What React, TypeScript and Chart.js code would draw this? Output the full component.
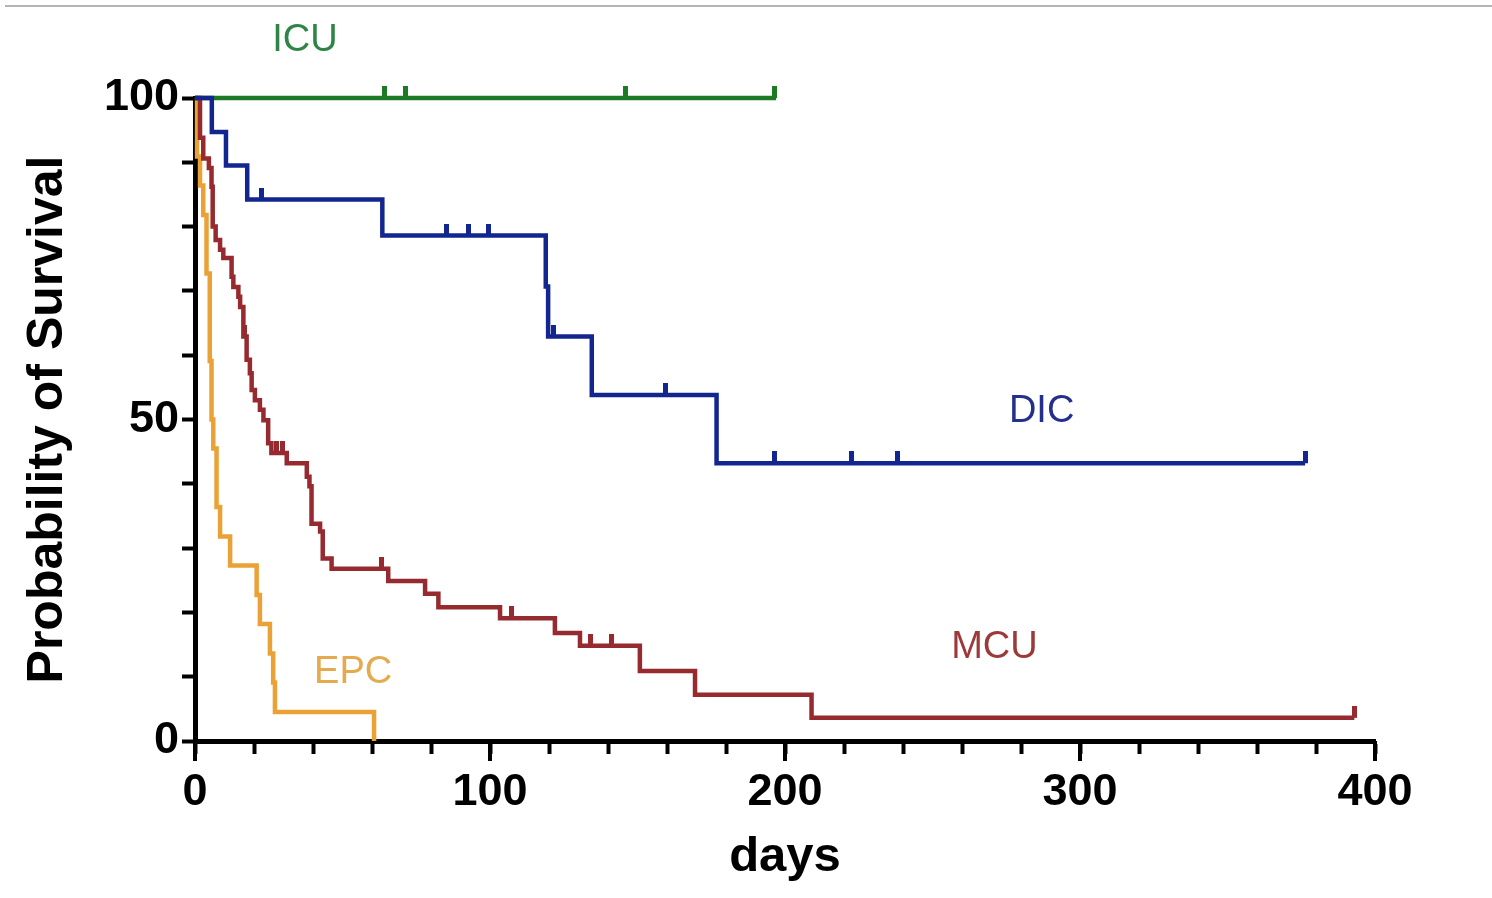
import React, { useEffect, useRef } from 'react';
import { Chart, registerables } from 'chart.js';
Chart.register(...registerables);

// ---- data (days, % survival) ----
const dicTimes = [0, 5.7, 10.5, 17.7, 63.5, 118.9, 119.7, 134.5, 176.8, 376.3];
const dicSurvival = [100, 94.7, 89.5, 84.2, 78.6, 70.7, 62.9, 53.8, 43.2, 43.2];
const dicCensored = [22.6, 85.3, 92.7, 99.4, 121.4, 159.5, 196.6, 222.7, 238.3, 376.3];

const icuTimes = [0, 197];
const icuSurvival = [100, 100];
const icuCensored = [64.4, 71.5, 145.8, 196.6];

const mcuTimes = [0, 1.7, 2.8, 4.7, 5.6, 6.0, 7.0, 8.5, 9.6, 12.4, 13.0, 14.7, 15.3, 16.4, 17.5, 18.6, 19.2, 20.3, 22.0, 23.2, 24.8, 25.9, 31.1, 37.9, 38.8, 39.5, 42.4, 43.3, 46.3, 65.5, 78.0, 82.5, 103.4, 122.0, 130.5, 150.8, 169.5, 209.0, 393.0];
const mcuSurvival = [100, 93.8, 90.6, 89.1, 86.2, 80.0, 77.9, 76.4, 75.1, 72.2, 70.6, 69.1, 67.5, 62.9, 59.3, 57.2, 54.6, 53.0, 51.5, 49.9, 46.3, 44.8, 43.2, 41.1, 39.6, 33.8, 32.6, 28.4, 26.8, 24.9, 22.9, 20.8, 19.1, 16.8, 14.8, 10.9, 7.2, 3.6, 3.6];
const mcuCensored = [16.8, 27.5, 29.5, 63.2, 107.3, 134.0, 141.2, 393.0];

const epcTimes = [0, 0.7, 1.7, 2.8, 3.9, 5.0, 5.6, 6.2, 7.3, 8.5, 11.9, 20.9, 22.0, 25.4, 26.5, 27.1, 60.7];
const epcSurvival = [100, 90.9, 86.4, 81.8, 72.7, 59.1, 50.0, 45.5, 36.4, 31.8, 27.3, 22.7, 18.2, 13.6, 9.1, 4.5, 0];
const epcCensored: number[] = [];

const groupNames = ['DIC', 'ICU', 'MCU', 'EPC'];
const labelDays = [287, 37.3, 271, 53.6];
const labelValues = [51.2, 109, 14.5, 10.7];

const xMajorTicks = [0, 100, 200, 300, 400];
const yLabeledTicks = [0, 50, 100];

const lineColors = ['#132690', '#1d7a24', '#962a2f', '#eaa236'];
const textColors = ['#23318c', '#2f8447', '#9c3a3a', '#e6aa4e'];

const FONT = "'Liberation Sans', Arial, sans-serif";

function survivalAt(times: number[], vals: number[], t: number) {
  let v = vals[0];
  for (let i = 0; i < times.length; i++) if (times[i] <= t) v = vals[i];
  return v;
}

function censorMark(color: string) {
  const c = document.createElement('canvas');
  c.width = 5;
  c.height = 24;
  const g = c.getContext('2d')!;
  g.fillStyle = color;
  g.fillRect(0, 0, 5, 12);
  return c;
}

export default function App() {
  const ref = useRef<HTMLCanvasElement>(null);
  useEffect(() => {
    const canvas = ref.current!;
    const groups = [
      [dicTimes, dicSurvival, dicCensored],
      [icuTimes, icuSurvival, icuCensored],
      [mcuTimes, mcuSurvival, mcuCensored],
      [epcTimes, epcSurvival, epcCensored],
    ] as number[][][];

    const censorSets = groups.map(([t, s, c], i) => ({
      label: groupNames[i] + ' censored',
      data: c.map((ct) => ({ x: ct, y: survivalAt(t, s, ct) })),
      showLine: false,
      pointStyle: censorMark(lineColors[i]),
      pointRadius: 6,
      pointHoverRadius: 6,
      clip: false as any,
    }));
    const lineSets = groups.map(([t, s], i) => ({
      label: groupNames[i],
      data: t.map((tt, k) => ({ x: tt, y: s[k] })),
      borderColor: lineColors[i],
      borderWidth: 4.5,
      stepped: 'before' as const,
      pointRadius: 0,
      fill: false,
      clip: false as any,
    }));

    const labelPlugin = {
      id: 'groupLabels',
      afterDatasetsDraw(chart: any) {
        const { ctx, scales } = chart;
        ctx.save();
        ctx.font = `38px ${FONT}`;
        ctx.textAlign = 'center';
        ctx.textBaseline = 'middle';
        groupNames.forEach((n, i) => {
          ctx.fillStyle = textColors[i];
          ctx.fillText(n, scales.x.getPixelForValue(labelDays[i]), scales.y.getPixelForValue(labelValues[i]));
        });
        ctx.restore();
      },
    };
    const majorTickPlugin = {
      id: 'majorTicks',
      afterDraw(chart: any) {
        const { ctx, scales, chartArea } = chart;
        ctx.save();
        ctx.strokeStyle = '#000';
        ctx.lineWidth = 4;
        xMajorTicks.forEach((v) => {
          const px = scales.x.getPixelForValue(v);
          ctx.beginPath();
          ctx.moveTo(px, chartArea.bottom);
          ctx.lineTo(px, chartArea.bottom + 20);
          ctx.stroke();
        });
        ctx.restore();
      },
    };

    const chart = new Chart(canvas, {
      type: 'line',
      data: { datasets: [...censorSets, ...lineSets] as any },
      options: {
        responsive: false,
        animation: false,
        devicePixelRatio: 1,
        layout: { padding: { top: 98, right: 117, left: 0, bottom: 0 } },
        plugins: { legend: { display: false }, tooltip: { enabled: false } },
        scales: {
          x: {
            type: 'linear',
            min: 0,
            max: 400,
            afterFit: (s: any) => { s.height = 157; },
            border: { display: true, color: '#000', width: 5 },
            grid: { drawOnChartArea: false, drawTicks: true, tickLength: 13, tickWidth: 4, tickColor: '#000' },
            ticks: {
              stepSize: 20,
              autoSkip: false,
              maxRotation: 0,
              color: '#000',
              padding: 12,
              font: { family: FONT, size: 45, weight: 'bold' },
              callback: (v: any) => (xMajorTicks.includes(Number(v)) ? String(v) : ''),
            },
            title: {
              display: true,
              text: 'days',
              color: '#000',
              font: { family: FONT, size: 49, weight: 'bold' },
              padding: { top: 0, bottom: 11 },
            },
          },
          y: {
            min: 0,
            max: 100,
            afterFit: (s: any) => { s.width = 195; },
            border: { display: true, color: '#000', width: 5 },
            grid: { drawOnChartArea: false, drawTicks: true, tickLength: 13, tickWidth: 4, tickColor: '#000' },
            ticks: {
              stepSize: 10,
              autoSkip: false,
              color: '#000',
              padding: 3,
              font: { family: FONT, size: 45, weight: 'bold' },
              callback: (v: any) => (yLabeledTicks.includes(Number(v)) ? String(v) : ''),
            },
            title: {
              display: true,
              text: 'Probability of Survival',
              color: '#000',
              font: { family: FONT, size: 50, weight: 'bold' },
              padding: { top: 18, bottom: 0 },
            },
          },
        },
      } as any,
      plugins: [labelPlugin, majorTickPlugin],
    });
    return () => chart.destroy();
  }, []);

  return (
    <div style={{ position: 'fixed', left: 0, top: 0, width: 1492, height: 898, background: '#fff', overflow: 'hidden' }}>
      <div style={{ position: 'absolute', left: 5, top: 5, width: 1487, borderTop: '2px solid #b4b4b4' }} />
      <canvas ref={ref} width={1492} height={898} style={{ display: 'block' }} />
    </div>
  );
}
